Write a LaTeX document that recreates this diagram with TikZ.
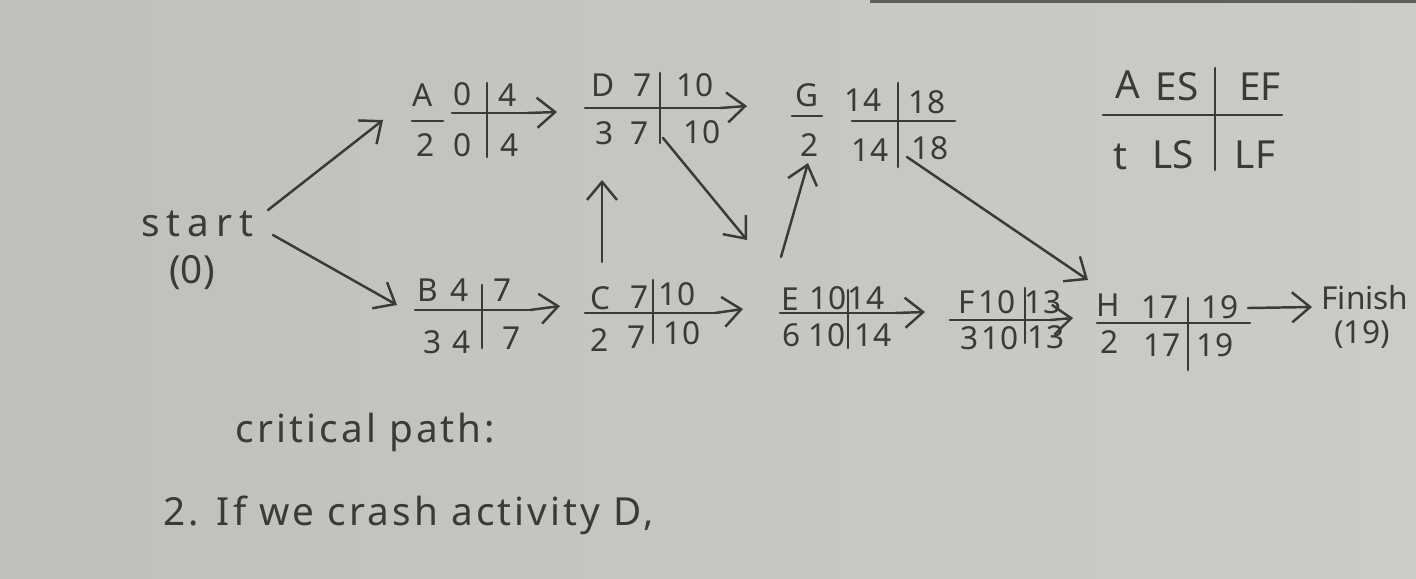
\documentclass[tikz,border=0pt]{standalone}
\usepackage{fontspec}
\setmainfont{Noto Sans}
\usetikzlibrary{arrows.meta}
\definecolor{paper}{RGB}{198,199,193}
\definecolor{paperL}{RGB}{190,193,187}
\definecolor{paperR}{RGB}{204,204,199}
\definecolor{ink}{RGB}{58,58,56}
\tikzset{
  txt/.style={inner sep=0pt, text=ink, font=\fontsize{9}{9}\selectfont},
  big/.style={inner sep=0pt, text=ink, font=\fontsize{11}{11}\selectfont},
  note/.style={inner sep=0pt, text=ink, anchor=west, font=\fontsize{11}{11}\selectfont\addfontfeature{LetterSpace=8}},
  rule/.style={draw=ink, line width=0.75pt, line cap=round},
  conn/.style={draw=ink, line width=0.7pt, line cap=round, -{Straight Barb[length=1.8mm,width=3mm]}},
}
\begin{document}
\begin{tikzpicture}[x=0.01cm,y=-0.01cm]
\useasboundingbox (0,0) rectangle (1416,578);
\shade[left color=paperL, right color=paperR] (0,0) rectangle (1416,578);
\fill[ink!75!paper] (870,0) rectangle (1416,2.5);

% Start
\node[big, font=\fontsize{11}{11}\selectfont\addfontfeature{LetterSpace=18}] (start) at (197,224) {start};
\node[big] (start0) at (192,273) {(0)};
\coordinate (Sa) at (268,210);
\coordinate (Sb) at (273,235);

% Activity A
\node[txt] (A) at (423,95) {A};
\draw[rule] (412,121) -- (443,121);
\node[txt] (Aes) at (463,94) {0};
\node[txt] (Aef) at (508,95) {4};
\node[txt] (At) at (426,145) {2};
\node[txt] (Als) at (463,145) {0};
\node[txt] (Alf) at (510,145) {4};
\draw[rule] (487,83) -- (487,157);
\draw[rule] (452,113) -- (527,113) coordinate (Aout);
\coordinate (Ain) at (383,120);

% Activity D
\node[txt] (D) at (603,85) {D};
\node[txt] (Des) at (643,85) {7};
\node[txt] (Def) at (695,85) {10};
\node[txt] (Dt) at (605,133) {3};
\node[txt] (Dls) at (640,133) {7};
\node[txt] (Dlf) at (702,132) {10};
\draw[rule] (660,73) -- (660,143);
\draw[rule] (585,108) coordinate (Din) -- (720,108) coordinate (Dout);
\coordinate (Ddown) at (663,138);
\coordinate (Dup) at (602,180);

% Activity G
\node[txt] (G) at (807,95) {G};
\draw[rule] (792,116) -- (822,116);
\node[txt] (Gt) at (810,145) {2};
\node[txt] (Ges) at (863,100) {14};
\node[txt] (Gef) at (927,102) {18};
\node[txt] (Gls) at (870,150) {14};
\node[txt] (Glf) at (930,148) {18};
\draw[rule] (898,83) -- (898,167);
\draw[rule] (852,121) -- (955,121);
\coordinate (Gin) at (747,106);
\coordinate (Gup) at (808,163);
\coordinate (Gout) at (907,157);

% Activity B
\node[txt] (B) at (428,290) {B};
\node[txt] (Bes) at (460,290) {4};
\node[txt] (Bef) at (503,290) {7};
\node[txt] (Bt) at (433,342) {3};
\node[txt] (Bls) at (462,342) {4};
\node[txt] (Blf) at (512,338) {7};
\draw[rule] (482,285) -- (482,348);
\draw[rule] (415,310) -- (530,310) coordinate (Bout);
\coordinate (Bin) at (397,305);

% Activity C
\node[txt] (C) at (600,298) {C};
\node[txt] (Ces) at (640,297) {7};
\node[txt] (Cef) at (677,294) {10};
\node[txt] (Ct) at (600,340) {2};
\node[txt] (Cls) at (637,337) {7};
\node[txt] (Clf) at (682,333) {10};
\draw[rule] (653,280) -- (653,343);
\draw[rule] (585,313) coordinate (Cin) -- (715,313) coordinate (Cout);
\coordinate (Cup) at (602,262);

% Activity E
\node[txt] (E) at (790,299) {E};
\node[txt] (Ees) at (828,298) {10};
\node[txt] (Eef) at (866,298) {14};
\node[txt] (Et) at (792,335) {6};
\node[txt] (Els) at (827,335) {10};
\node[txt] (Elf) at (873,335) {14};
\draw[rule] (848,290) -- (848,348);
\draw[rule] (780,313) -- (895,313) coordinate (Eout);
\coordinate (Ein) at (743,309);
\coordinate (Eup) at (781,257);
\coordinate (Etop) at (747,240);

% Activity F
\node[txt] (F) at (967,302) {F};
\node[txt] (Fes) at (997,302) {10};
\node[txt] (Fef) at (1043,302) {13};
\node[txt] (Ft) at (970,338) {3};
\node[txt] (Fls) at (1000,338) {10};
\node[txt] (Flf) at (1046,337) {13};
\draw[rule] (1025,288) -- (1025,343);
\draw[rule] (950,320) -- (1050,320) coordinate (Fout);
\coordinate (Fin) at (925,312);

% Activity H
\node[txt] (H) at (1108,305) {H};
\node[txt] (Hes) at (1160,307) {17};
\node[txt] (Hef) at (1220,307) {19};
\node[txt] (Ht) at (1110,342) {2};
\node[txt] (Hls) at (1162,345) {17};
\node[txt] (Hlf) at (1215,345) {19};
\draw[rule] (1188,298) -- (1188,370);
\draw[rule] (1097,323) -- (1250,323);
\coordinate (Hin1) at (1073,318);
\coordinate (Hin2) at (1088,280);
\coordinate (Hout) at (1248,308);

% Finish
\node[txt] (finish) at (1365,298) {Finish};
\node[txt] (finish19) at (1362,335) {(19)};
\coordinate (Fnin) at (1312,307);

% Legend
\node[big] (LA) at (1128,85) {A};
\node[big] (LES) at (1177,87) {ES};
\node[big] (LEF) at (1260,87) {EF};
\node[big] (Lt) at (1120,157) {t};
\node[big] (LLS) at (1173,155) {LS};
\node[big] (LLF) at (1255,155) {LF};
\draw[rule] (1215,68) -- (1215,170);
\draw[rule] (1103,115) -- (1282,115);

% Connectors
\draw[conn] (Sa) -- (Ain);
\draw[conn] (Sb) -- (Bin);
\draw[conn] (Aout) -- (557,112);
\draw[conn] (Dout) -- (Gin);
\draw[conn] (Ddown) -- (Etop);
\draw[conn] (Cup) -- (Dup);
\draw[conn] (Eup) -- (Gup);
\draw[conn] (Gout) -- (Hin2);
\draw[conn] (Bout) -- (560,306);
\draw[conn] (Cout) -- (Ein);
\draw[conn] (Eout) -- (Fin);
\draw[conn] (Fout) -- (Hin1);
\draw[conn] (Hout) -- (Fnin);

% Notes
\node[note] (crit) at (235,432) {critical path:};
\node[note] (crash) at (163,515) {2. If we crash activity D,};
\end{tikzpicture}
\end{document}
